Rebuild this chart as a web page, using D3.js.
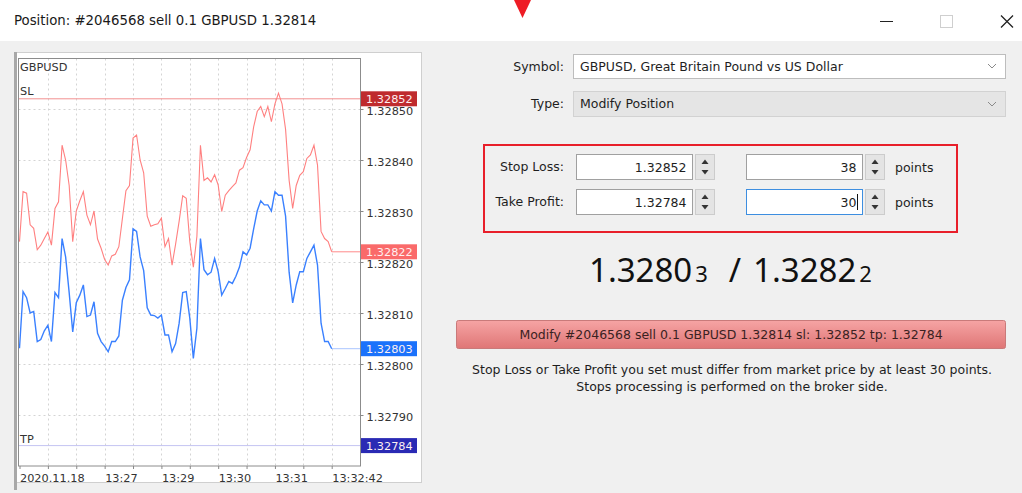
<!DOCTYPE html>
<html>
<head>
<meta charset="utf-8">
<script src="https://cdn.jsdelivr.net/npm/d3@7"></script>
<style>
  body { margin: 0; background: #f0f0f0; }
  svg { display: block; }
</style>
</head>
<body>
<div id="chart"></div>
<script>
// ask (red) and bid (blue) prices, one value per tick
var askPrices = [
  1.328240, 1.328338, 1.328335, 1.328273, 1.328266, 1.328224, 1.328233, 1.328246, 1.328259, 1.328233,
  1.328305, 1.328318, 1.328429, 1.328400, 1.328350, 1.328240, 1.328300, 1.328320, 1.328338, 1.328292,
  1.328273, 1.328300, 1.328245, 1.328227, 1.328205, 1.328194, 1.328212, 1.328215, 1.328230, 1.328285,
  1.328340, 1.328350, 1.328443, 1.328449, 1.328400, 1.328375, 1.328290, 1.328270, 1.328273, 1.328275,
  1.328286, 1.328230, 1.328246, 1.328194, 1.328235, 1.328280, 1.328330, 1.328325, 1.328240, 1.328190,
  1.328250, 1.328429, 1.328360, 1.328365, 1.328357, 1.328371, 1.328351, 1.328299, 1.328331, 1.328340,
  1.328348, 1.328355, 1.328380, 1.328385, 1.328405, 1.328420, 1.328465, 1.328495, 1.328505, 1.328485,
  1.328505, 1.328475, 1.328510, 1.328531, 1.328510, 1.328460, 1.328360, 1.328305, 1.328350, 1.328370,
  1.328377, 1.328403, 1.328410, 1.328429, 1.328390, 1.328260, 1.328246, 1.328240, 1.328220
];
var bidPrices = [
  1.328031, 1.328142, 1.328130, 1.328100, 1.328103, 1.328044, 1.328048, 1.328065, 1.328076, 1.328044,
  1.328140, 1.328130, 1.328246, 1.328210, 1.328140, 1.328063, 1.328120, 1.328135, 1.328155, 1.328093,
  1.328096, 1.328122, 1.328060, 1.328044, 1.328035, 1.328024, 1.328044, 1.328044, 1.328055, 1.328125,
  1.328150, 1.328165, 1.328265, 1.328260, 1.328210, 1.328183, 1.328110, 1.328096, 1.328095, 1.328090,
  1.328096, 1.328057, 1.328057, 1.328024, 1.328040, 1.328080, 1.328140, 1.328142, 1.328090, 1.328011,
  1.328070, 1.328246, 1.328185, 1.328175, 1.328180, 1.328207, 1.328181, 1.328135, 1.328148, 1.328162,
  1.328158, 1.328172, 1.328190, 1.328220, 1.328214, 1.328227, 1.328265, 1.328300, 1.328320, 1.328312,
  1.328312, 1.328300, 1.328338, 1.328331, 1.328331, 1.328290, 1.328180, 1.328120, 1.328155, 1.328181,
  1.328181, 1.328207, 1.328220, 1.328233, 1.328194, 1.328080, 1.328044, 1.328044, 1.328030
];

var timeLabels = ["2020.11.18", "13:27", "13:29", "13:30", "13:31", "13:32:42"];
var timeLabelTicks = [0, 24, 40, 56, 72, 88];
var priceTicks = [1.32790, 1.32800, 1.32810, 1.32820, 1.32830, 1.32840, 1.32850];

var symbol = "GBPUSD";
var symbolName = "GBPUSD, Great Britain Pound vs US Dollar";
var ticket = "#2046568";
var volume = "0.1";
var openPrice = "1.32814";
var stopLoss = 1.32852;
var takeProfit = 1.32784;
var lastAsk = 1.32822;
var lastBid = 1.32803;
var slPoints = "38";
var tpPoints = "30";

var WIDTH = 1022;
var HEIGHT = 493;
var UI_FONT = "'DejaVu Sans', sans-serif";
var fmt5 = d3.format(".5f");

var svg = d3.select("#chart").append("svg")
    .attr("width", WIDTH)
    .attr("height", HEIGHT)
    .style("font-family", UI_FONT);

// ---- window chrome ----
svg.append("rect").attr("width", WIDTH).attr("height", HEIGHT).attr("fill", "#f0f0f0");
svg.append("rect").attr("width", WIDTH).attr("height", 41).attr("fill", "#ffffff");

svg.append("text")
    .attr("x", 14).attr("y", 25)
    .style("font-size", "13.3px")
    .attr("fill", "#1a1a1a")
    .text("Position: " + ticket + " sell " + volume + " " + symbol + " " + openPrice);

svg.append("path")
    .attr("d", "M514,0 L531,0 L522.5,18 Z")
    .attr("fill", "#ee1c25");

svg.append("line").attr("x1", 880).attr("x2", 893).attr("y1", 21.5).attr("y2", 21.5)
    .attr("stroke", "#222").attr("stroke-width", 1);
svg.append("rect").attr("x", 940.5).attr("y", 15.5).attr("width", 12).attr("height", 12)
    .attr("fill", "none").attr("stroke", "#cfcfcf");
svg.append("path").attr("d", "M1001,15.5 L1013,27.5 M1013,15.5 L1001,27.5")
    .attr("stroke", "#222").attr("stroke-width", 1.3);

// ---- chart window ----
var MARGINS = {left: 18.5, right: 360.5, top: 58.5, bottom: 466};

svg.append("rect")
    .attr("x", 15.5).attr("y", 52.5).attr("width", 406).attr("height", 430)
    .attr("fill", "#ffffff").attr("stroke", "#cfcfcf");
svg.append("line").attr("x1", 15.5).attr("x2", 15.5).attr("y1", 52).attr("y2", 490)
    .attr("stroke", "#a8a8a8").attr("stroke-width", 3);

var xScale = d3.scaleLinear().domain([0, askPrices.length - 1]).range([19.5, 331.7]);
var yScale = d3.scaleLinear().domain([1.32780, 1.32860]).range([466, 58]);

var chart = svg.append("g").style("font-size", "11.3px");

// grid
chart.append("g").selectAll("line")
    .data(priceTicks)
    .enter().append("line")
    .attr("x1", MARGINS.left).attr("x2", MARGINS.right)
    .attr("y1", function(d) { return Math.round(yScale(d)) + 0.5; })
    .attr("y2", function(d) { return Math.round(yScale(d)) + 0.5; })
    .attr("stroke", "#d4d4d4").attr("stroke-dasharray", "2,3");

chart.append("g").selectAll("line")
    .data(d3.range(8, askPrices.length, 8))
    .enter().append("line")
    .attr("x1", function(d) { return Math.round(xScale(d)) + 0.5; })
    .attr("x2", function(d) { return Math.round(xScale(d)) + 0.5; })
    .attr("y1", MARGINS.top).attr("y2", MARGINS.bottom)
    .attr("stroke", "#d4d4d4").attr("stroke-dasharray", "2,3");

// stop loss / take profit levels
chart.append("line")
    .attr("x1", MARGINS.left).attr("x2", MARGINS.right)
    .attr("y1", yScale(stopLoss)).attr("y2", yScale(stopLoss))
    .attr("stroke", "#f29090");
chart.append("line")
    .attr("x1", MARGINS.left).attr("x2", MARGINS.right)
    .attr("y1", yScale(takeProfit)).attr("y2", yScale(takeProfit))
    .attr("stroke", "#c4c4f2");

var lastIdx = askPrices.length - 1;
chart.append("line")
    .attr("x1", xScale(lastIdx)).attr("x2", MARGINS.right)
    .attr("y1", yScale(lastAsk)).attr("y2", yScale(lastAsk))
    .attr("stroke", "#ff8a8a");
chart.append("line")
    .attr("x1", xScale(lastIdx)).attr("x2", MARGINS.right)
    .attr("y1", yScale(lastBid)).attr("y2", yScale(lastBid))
    .attr("stroke", "#aac6ff");

var line = d3.line()
    .x(function(d, i) { return xScale(i); })
    .y(function(d) { return yScale(d); });

chart.append("path")
    .datum(askPrices)
    .attr("d", line)
    .attr("fill", "none")
    .attr("stroke", "#ff8080")
    .attr("stroke-width", 1.1);

chart.append("path")
    .datum(bidPrices)
    .attr("d", line)
    .attr("fill", "none")
    .attr("stroke", "#3a80ff")
    .attr("stroke-width", 1.4);

// frame
chart.append("rect")
    .attr("x", MARGINS.left).attr("y", MARGINS.top)
    .attr("width", MARGINS.right - MARGINS.left)
    .attr("height", MARGINS.bottom - MARGINS.top)
    .attr("fill", "none").attr("stroke", "#8c8c8c");

chart.append("text").attr("x", 20).attr("y", 71).attr("fill", "#333").text(symbol);
chart.append("text").attr("x", 20).attr("y", 95).attr("fill", "#333").text("SL");
chart.append("text").attr("x", 20).attr("y", 443).attr("fill", "#333").text("TP");

// axes
var yAxis = d3.axisRight(yScale)
    .tickValues(priceTicks)
    .tickSize(3)
    .tickPadding(3)
    .tickFormat(fmt5);

var yg = chart.append("g")
    .attr("transform", "translate(" + MARGINS.right + ",0)")
    .call(yAxis);
yg.select(".domain").remove();
yg.selectAll("line").attr("stroke", "#888");
yg.selectAll("text").attr("fill", "#333").attr("dy", "0.5em")
    .style("font-family", UI_FONT).style("font-size", "11.3px");

var xAxis = d3.axisBottom(xScale)
    .tickValues(d3.range(0, askPrices.length, 8))
    .tickSize(3)
    .tickPadding(5)
    .tickFormat(function(d) {
        var k = timeLabelTicks.indexOf(d);
        return k < 0 ? "" : timeLabels[k];
    });

var xg = chart.append("g")
    .attr("transform", "translate(0," + MARGINS.bottom + ")")
    .call(xAxis);
xg.select(".domain").remove();
xg.selectAll("line").attr("stroke", "#888");
xg.selectAll("text").attr("fill", "#333").attr("text-anchor", "start")
    .style("font-family", UI_FONT).style("font-size", "11.3px");

// price tags on the right scale
var tags = [
    {value: stopLoss, fill: "#bf2b2e"},
    {value: lastAsk, fill: "#fa6a6a"},
    {value: lastBid, fill: "#1b72fb"},
    {value: takeProfit, fill: "#2a2ab4"}
];
var tagG = chart.append("g").selectAll("g")
    .data(tags)
    .enter().append("g")
    .attr("transform", function(d) { return "translate(361," + yScale(d.value) + ")"; });
tagG.append("rect")
    .attr("x", 0).attr("y", -7.5).attr("width", 56).attr("height", 15)
    .attr("fill", function(d) { return d.fill; });
tagG.append("text")
    .attr("x", 5).attr("y", 4.3)
    .attr("fill", "#fff0f0")
    .text(function(d) { return fmt5(d.value); });

// ---- order form ----
var form = svg.append("g").style("font-size", "12.5px").attr("fill", "#1e1e1e");

function label(txt, x, y, anchor) {
    return form.append("text").attr("x", x).attr("y", y)
        .attr("text-anchor", anchor || "end").text(txt);
}

function chevron(cx, cy) {
    form.append("path")
        .attr("d", "M" + (cx - 4) + "," + (cy - 2) + " L" + cx + "," + (cy + 2) + " L" + (cx + 4) + "," + (cy - 2))
        .attr("fill", "none").attr("stroke", "#8a8a8a");
}

function inputBox(x, y, w, h, txt, stroke) {
    form.append("rect").attr("x", x).attr("y", y).attr("width", w).attr("height", h)
        .attr("fill", "#ffffff").attr("stroke", stroke || "#a0a0a0");
    form.append("text").attr("x", x + w - 6).attr("y", y + h / 2 + 4.5)
        .attr("text-anchor", "end").text(txt);
}

function spinner(x, y, h) {
    form.append("rect").attr("x", x).attr("y", y).attr("width", 19).attr("height", h)
        .attr("fill", "#e4e4e4").attr("stroke", "#cccccc");
    var cx = x + 9.5, cy = y + h / 2;
    form.append("path")
        .attr("d", "M" + (cx - 3.5) + "," + (cy - 3) + " L" + (cx + 3.5) + "," + (cy - 3) + " L" + cx + "," + (cy - 7.5) + " Z")
        .attr("fill", "#333");
    form.append("path")
        .attr("d", "M" + (cx - 3.5) + "," + (cy + 3) + " L" + (cx + 3.5) + "," + (cy + 3) + " L" + cx + "," + (cy + 7.5) + " Z")
        .attr("fill", "#333");
}

label("Symbol:", 564, 70.5);
form.append("rect").attr("x", 573.5).attr("y", 54.5).attr("width", 432).attr("height", 24)
    .attr("fill", "#ffffff").attr("stroke", "#bdbdbd");
label(symbolName, 580, 70.5, "start");
chevron(992, 66);

label("Type:", 564, 107.5);
form.append("rect").attr("x", 573.5).attr("y", 91.5).attr("width", 432).attr("height", 25)
    .attr("fill", "#e5e5e5").attr("stroke", "#d2d2d2");
label("Modify Position", 580, 108, "start");
chevron(992, 104);

form.append("rect").attr("x", 484).attr("y", 145).attr("width", 473).attr("height", 87)
    .attr("fill", "none").attr("stroke", "#e81f2a").attr("stroke-width", 2);

label("Stop Loss:", 564, 171);
inputBox(576.5, 154.5, 116, 25, fmt5(stopLoss));
spinner(695.5, 154.5, 25);
inputBox(746.5, 154.5, 116, 25, slPoints);
spinner(865.5, 154.5, 25);
label("points", 895, 172, "start");

label("Take Profit:", 564, 205.5);
inputBox(576.5, 189.5, 116, 25, fmt5(takeProfit));
spinner(695.5, 189.5, 25);
inputBox(746.5, 189.5, 116, 25, tpPoints, "#3d8ee0");
form.append("line").attr("x1", 857.5).attr("x2", 857.5).attr("y1", 194).attr("y2", 210)
    .attr("stroke", "#111");
spinner(865.5, 189.5, 25);
label("points", 895, 206.5, "start");

// big bid / ask quote
var bidStr = fmt5(lastBid), askStr = fmt5(lastAsk);
var quote = form.append("text")
    .attr("x", 589).attr("y", 282)
    .attr("text-anchor", "start")
    .style("font-family", "'Noto Sans', sans-serif")
    .attr("fill", "#111");
quote.append("tspan").style("font-size", "33px").text(bidStr.slice(0, -1));
quote.append("tspan").attr("dx", 3).style("font-size", "22px").text(bidStr.slice(-1));
quote.append("tspan").attr("dx", 21).style("font-size", "33px").text("/");
quote.append("tspan").attr("dx", 12).style("font-size", "33px").text(askStr.slice(0, -1));
quote.append("tspan").attr("dx", 3).style("font-size", "22px").text(askStr.slice(-1));

// modify button
var grad = svg.append("defs").append("linearGradient")
    .attr("id", "btnGrad").attr("x1", 0).attr("x2", 0).attr("y1", 0).attr("y2", 1);
grad.append("stop").attr("offset", "0%").attr("stop-color", "#f6a4a4");
grad.append("stop").attr("offset", "100%").attr("stop-color", "#df7676");

form.append("rect").attr("x", 456.5).attr("y", 320.5).attr("width", 549).attr("height", 28)
    .attr("rx", 2).attr("fill", "url(#btnGrad)").attr("stroke", "#c97a7a");
label("Modify " + ticket + " sell " + volume + " " + symbol + " " + openPrice +
      " sl: " + fmt5(stopLoss) + " tp: " + fmt5(takeProfit), 731, 339, "middle")
    .attr("fill", "#3a2222");

label("Stop Loss or Take Profit you set must differ from market price by at least " + tpPoints + " points.", 732, 373.5, "middle");
label("Stops processing is performed on the broker side.", 732, 390.5, "middle");
</script>
</body>
</html>
